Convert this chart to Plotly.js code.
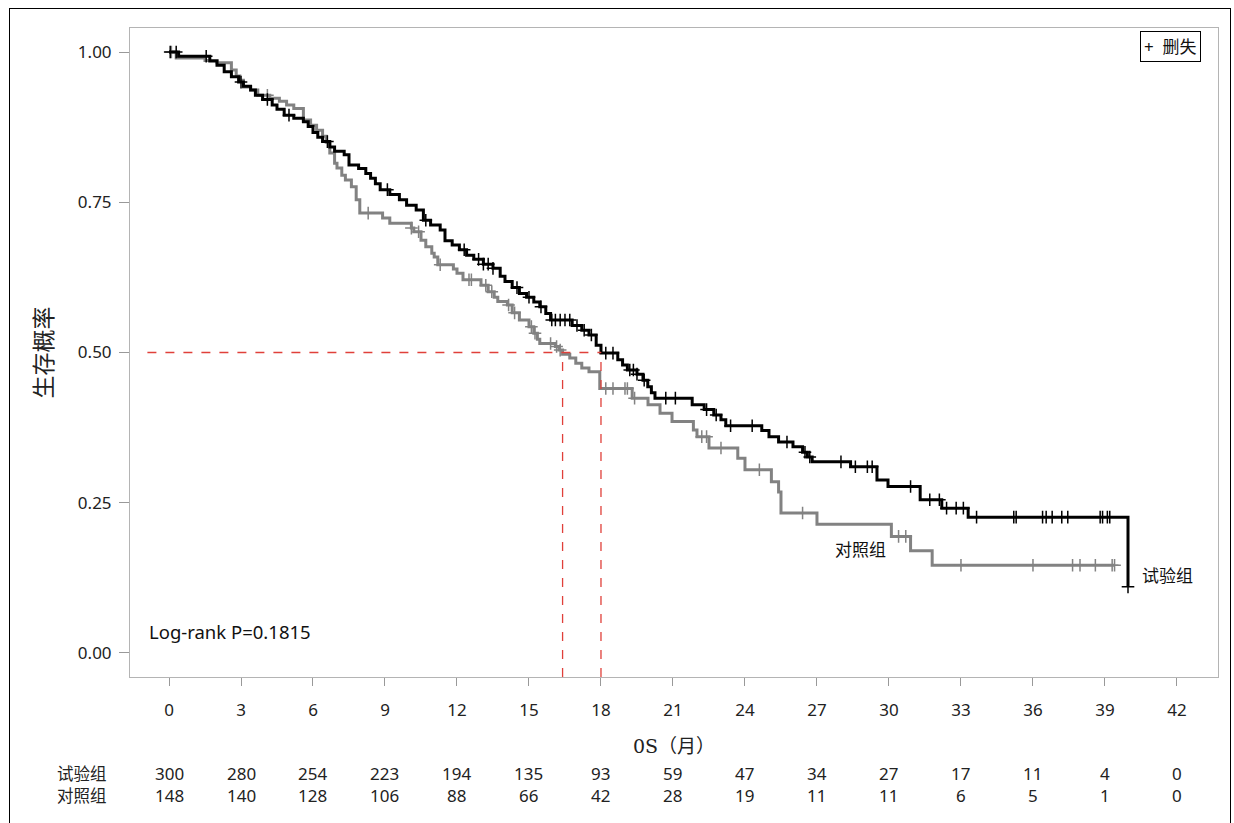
<!DOCTYPE html>
<html>
<head>
<meta charset="utf-8">
<script src="https://cdn.plot.ly/plotly-3.0.1.min.js"></script>
<style>
html,body{margin:0;padding:0;background:#fff;}
#chart{position:absolute;left:0;top:0;width:1234px;height:823px;}
#frame{position:absolute;left:9px;top:8px;width:1222px;height:840px;border:1px solid #000;box-sizing:border-box;pointer-events:none;}
</style>
</head>
<body>
<div id="chart"></div>
<div id="frame"></div>
<script>
// ---- data ----
const trialT = [0, 0.4, 1.7, 2.0, 2.3, 2.6, 2.9, 3.1, 3.4, 3.6, 3.9, 4.3, 4.5, 4.8, 5.2, 5.6, 5.8, 6.0, 6.2, 6.4, 6.7, 6.9, 7.3, 7.5, 7.9, 8.2, 8.4, 8.6, 8.8, 9.2, 9.6, 9.9, 10.3, 10.6, 10.9, 11.3, 11.5, 11.8, 12.1, 12.4, 12.7, 13.1, 13.5, 13.8, 14.0, 14.3, 14.6, 14.9, 15.2, 15.45, 15.7, 15.9, 16.8, 17.2, 17.5, 17.8, 18.0, 18.7, 18.9, 19.1, 19.5, 19.75, 19.95, 20.1, 20.25, 21.8, 22.3, 22.7, 23.0, 23.2, 24.7, 25.0, 25.4, 26.0, 26.4, 26.6, 26.8, 28.4, 29.5, 29.96, 31.3, 32.2, 33.3, 39.96];
const trialS = [1.0, 0.993, 0.985, 0.978, 0.967, 0.959, 0.950, 0.943, 0.937, 0.928, 0.921, 0.912, 0.905, 0.895, 0.890, 0.884, 0.876, 0.866, 0.858, 0.851, 0.842, 0.835, 0.829, 0.812, 0.806, 0.798, 0.790, 0.781, 0.771, 0.763, 0.754, 0.745, 0.737, 0.720, 0.712, 0.704, 0.686, 0.679, 0.671, 0.662, 0.655, 0.647, 0.640, 0.627, 0.618, 0.608, 0.598, 0.592, 0.584, 0.576, 0.565, 0.554, 0.545, 0.537, 0.529, 0.512, 0.499, 0.488, 0.479, 0.471, 0.464, 0.454, 0.443, 0.433, 0.424, 0.413, 0.405, 0.396, 0.388, 0.378, 0.370, 0.360, 0.351, 0.343, 0.334, 0.326, 0.318, 0.310, 0.288, 0.277, 0.255, 0.241, 0.226, 0.110];
const trialCensor = [0.05, 0.3, 1.55, 3.0, 4.1, 5.0, 6.6, 9.1, 10.7, 12.3, 12.9, 13.1, 13.3, 13.5, 14.5, 15.0, 15.5, 15.95, 16.1, 16.3, 16.5, 16.7, 17.0, 17.3, 17.6, 18.2, 18.5, 19.2, 19.35, 19.5, 19.8, 20.7, 21.1, 22.4, 22.8, 23.4, 24.3, 25.75, 26.5, 26.7, 28.0, 28.6, 29.1, 29.3, 30.9, 31.7, 32.1, 32.4, 32.8, 33.1, 33.65, 35.2, 35.3, 36.4, 36.55, 36.8, 37.2, 37.45, 38.8, 38.9, 39.1, 39.2, 39.96];

const ctrlT = [0, 0.3, 1.5, 2.0, 2.6, 2.8, 2.95, 3.1, 3.4, 3.7, 4.2, 4.6, 4.9, 5.2, 5.6, 5.9, 6.15, 6.4, 6.55, 6.7, 6.9, 7.0, 7.2, 7.35, 7.6, 7.8, 7.95, 8.9, 9.2, 10.1, 10.2, 10.5, 10.7, 10.95, 11.05, 11.2, 11.85, 12.0, 12.25, 13.0, 13.3, 13.55, 13.7, 14.1, 14.3, 14.6, 15.0, 15.2, 15.35, 15.45, 16.1, 16.25, 16.4, 16.7, 16.95, 17.2, 17.5, 17.95, 19.3, 19.96, 20.46, 20.96, 21.85, 22.0, 22.5, 23.7, 24.0, 25.1, 25.4, 25.5, 27.0, 30.1, 30.9, 31.8];
const ctrlS = [1.0, 0.990, 0.986, 0.982, 0.970, 0.960, 0.953, 0.942, 0.937, 0.928, 0.923, 0.918, 0.912, 0.906, 0.887, 0.878, 0.870, 0.860, 0.850, 0.832, 0.815, 0.807, 0.795, 0.787, 0.776, 0.754, 0.732, 0.724, 0.715, 0.707, 0.701, 0.687, 0.676, 0.665, 0.659, 0.646, 0.639, 0.632, 0.621, 0.612, 0.601, 0.592, 0.585, 0.579, 0.566, 0.554, 0.543, 0.532, 0.522, 0.515, 0.510, 0.504, 0.497, 0.491, 0.482, 0.474, 0.468, 0.440, 0.424, 0.413, 0.399, 0.385, 0.371, 0.360, 0.341, 0.324, 0.305, 0.285, 0.268, 0.233, 0.214, 0.194, 0.170, 0.146];
const ctrlEnd = 39.4;
const ctrlCensor = [0.1, 4.1, 8.3, 10.1, 10.4, 11.3, 12.5, 12.6, 13.2, 13.45, 14.15, 14.4, 15.1, 15.25, 15.9, 16.15, 16.3, 18.2, 18.5, 19.0, 19.1, 19.4, 22.2, 22.4, 23.0, 24.6, 26.4, 30.4, 30.7, 33.0, 36.0, 37.65, 37.96, 38.6, 39.3, 39.4];

const tickMonths = [0, 3, 6, 9, 12, 15, 18, 21, 24, 27, 30, 33, 36, 39, 42];
const atRiskTrial = [300, 280, 254, 223, 194, 135, 93, 59, 47, 34, 27, 17, 11, 4, 0];
const atRiskCtrl = [148, 140, 128, 106, 88, 66, 42, 28, 19, 11, 11, 6, 5, 1, 0];
const groupNames = ['试验组', '对照组'];
const medianTrial = 18.0;
const medianCtrl = 16.4;
const pText = 'Log-rank P=0.1815';
const legendText = '+  删失';
const xTitle = '0S（月）';
const yTitle = '生存概率';

// ---- helpers ----
function sAt(T, S, t) { let v = S[0]; for (let i = 0; i < T.length; i++) if (T[i] <= t) v = S[i]; return v; }

const SANS = "'Noto Sans', 'Noto Sans CJK SC', sans-serif";
const SERIF = "'DejaVu Serif', 'Noto Sans CJK SC', serif";
const BLACK = '#000000';
const GRAY = '#828282';

const traces = [
  {x: ctrlT.concat([ctrlEnd]), y: ctrlS.concat([ctrlS[ctrlS.length-1]]), mode: 'lines', line: {shape: 'hv', color: GRAY, width: 3}, hoverinfo: 'skip'},
  {x: ctrlCensor, y: ctrlCensor.map(t => sAt(ctrlT, ctrlS, t)), mode: 'markers', marker: {symbol: 'cross-thin', size: 9, line: {color: GRAY, width: 1.5}}, hoverinfo: 'skip'},
  {x: trialT, y: trialS, mode: 'lines', line: {shape: 'hv', color: BLACK, width: 3}, hoverinfo: 'skip'},
  {x: trialCensor, y: trialCensor.map(t => sAt(trialT, trialS, t)), mode: 'markers', marker: {symbol: 'cross-thin', size: 9, line: {color: BLACK, width: 1.5}}, hoverinfo: 'skip'}
];

const annotations = [];
const rowY = [-0.148, -0.183];
[atRiskTrial, atRiskCtrl].forEach((row, r) => {
  annotations.push({xref: 'paper', yref: 'paper', x: -0.044, y: rowY[r], text: groupNames[r], showarrow: false, xanchor: 'center', yanchor: 'middle', font: {family: SANS, size: 16.5, color: '#222'}});
  row.forEach((v, i) => annotations.push({xref: 'x', yref: 'paper', x: tickMonths[i], y: rowY[r], text: String(v), showarrow: false, xanchor: 'center', yanchor: 'middle', font: {family: SANS, size: 17, color: '#222'}}));
});
annotations.push({xref: 'paper', yref: 'paper', x: 0.5, y: -0.106, text: xTitle, showarrow: false, xanchor: 'center', yanchor: 'middle', font: {family: SERIF, size: 19, color: '#222'}});
annotations.push({xref: 'x', yref: 'y', x: -0.9, y: 0.035, text: pText, showarrow: false, xanchor: 'left', yanchor: 'middle', font: {family: SANS, size: 18.5, color: '#111'}});
annotations.push({xref: 'x', yref: 'y', x: 28.8, y: 0.171, text: groupNames[1], showarrow: false, xanchor: 'center', yanchor: 'middle', font: {family: SERIF, size: 17, color: '#111'}});
annotations.push({xref: 'x', yref: 'y', x: 41.6, y: 0.128, text: groupNames[0], showarrow: false, xanchor: 'center', yanchor: 'middle', font: {family: SERIF, size: 17, color: '#111'}});
annotations.push({xref: 'paper', yref: 'paper', x: 0.956, y: 0.972, text: legendText, showarrow: false, xanchor: 'center', yanchor: 'middle', bordercolor: '#000', borderwidth: 1, borderpad: 3, bgcolor: '#fff', font: {family: SANS, size: 17, color: '#111'}});

const RED = '#e0403a';
const shapes = [
  {type: 'line', xref: 'x', yref: 'y', x0: -0.9, x1: medianTrial, y0: 0.5, y1: 0.5, line: {color: RED, width: 1.3, dash: 'dash'}},
  {type: 'line', xref: 'x', yref: 'y', x0: medianCtrl, x1: medianCtrl, y0: -0.04, y1: 0.5, line: {color: RED, width: 1.3, dash: 'dash'}},
  {type: 'line', xref: 'x', yref: 'y', x0: medianTrial, x1: medianTrial, y0: -0.04, y1: 0.5, line: {color: RED, width: 1.3, dash: 'dash'}}
];

const layout = {
  width: 1234, height: 823,
  margin: {l: 130, r: 16, t: 28, b: 146},
  paper_bgcolor: '#fff', plot_bgcolor: '#fff',
  showlegend: false,
  font: {family: SANS, size: 17, color: '#222'},
  xaxis: {range: [-1.625, 43.71], tickvals: tickMonths, ticktext: tickMonths.map(String), ticks: 'outside', ticklen: 8, tickcolor: '#999', tickwidth: 1,
          showline: true, mirror: true, linecolor: '#b4b4b4', linewidth: 1, showgrid: false, zeroline: false, ticklabelstandoff: 10,
          tickfont: {family: SANS, size: 17, color: '#222'}},
  yaxis: {range: [-0.04, 1.04], tickvals: [0, 0.25, 0.5, 0.75, 1.0], ticktext: ['0.00', '0.25', '0.50', '0.75', '1.00'], ticks: 'outside', ticklen: 10, tickcolor: '#999', tickwidth: 1,
          showline: true, mirror: true, linecolor: '#b4b4b4', linewidth: 1, showgrid: false, zeroline: false, ticklabelstandoff: 4,
          tickfont: {family: SANS, size: 17, color: '#222'},
          title: {text: yTitle, font: {family: SERIF, size: 23, color: '#222'}, standoff: 18}},
  annotations: annotations,
  shapes: shapes
};

Plotly.newPlot('chart', traces, layout, {displayModeBar: false, staticPlot: true});
</script>
</body>
</html>
